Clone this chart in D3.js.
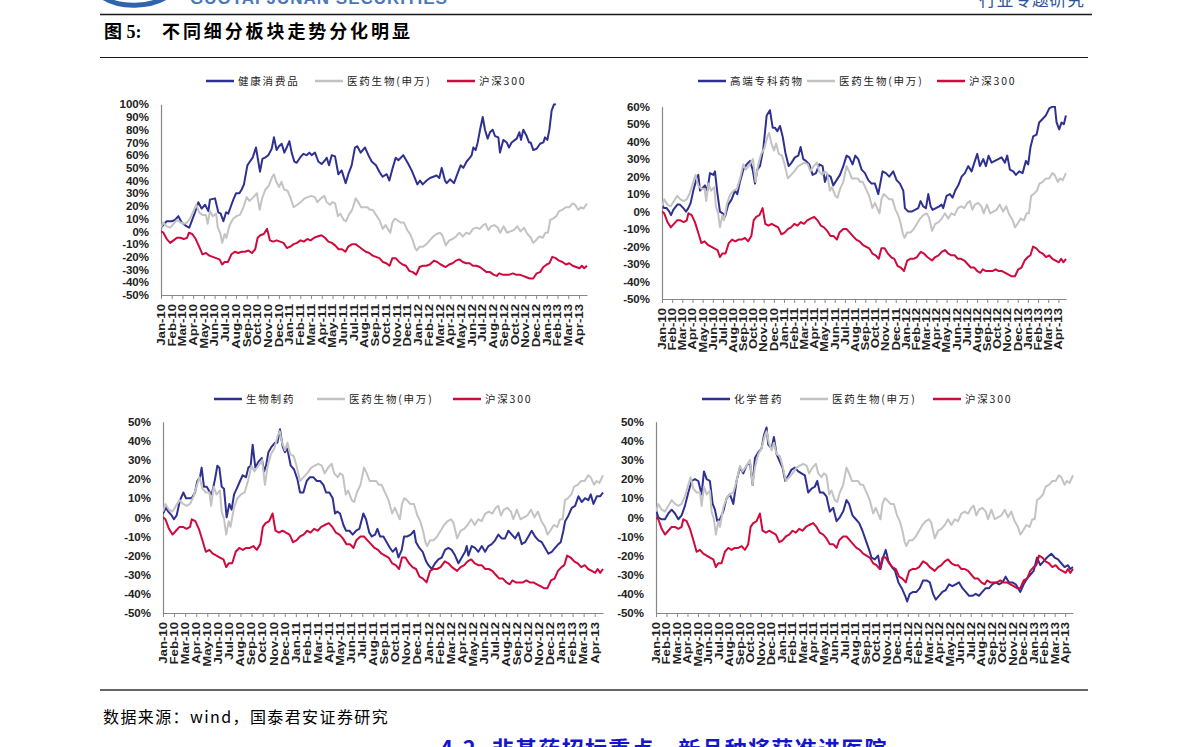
<!DOCTYPE html>
<html>
<head>
<meta charset="utf-8">
<script src="https://cdn.jsdelivr.net/npm/d3@7"></script>
<style>
  body { margin: 0; background: #fff; }
  svg { display: block; }
</style>
</head>
<body>
<svg id="page" width="1191" height="747"></svg>
<script>
// month tick labels
var months = ["Jan-10","Feb-10","Mar-10","Apr-10","May-10","Jun-10","Jul-10","Aug-10","Sep-10","Oct-10","Nov-10","Dec-10",
  "Jan-11","Feb-11","Mar-11","Apr-11","May-11","Jun-11","Jul-11","Aug-11","Sep-11","Oct-11","Nov-11","Dec-11",
  "Jan-12","Feb-12","Mar-12","Apr-12","May-12","Jun-12","Jul-12","Aug-12","Sep-12","Oct-12","Nov-12","Dec-12",
  "Jan-13","Feb-13","Mar-13","Apr-13"];

// [months since Jan-10, cumulative return %]
var yiyao = [[0,3],[0.22,7],[0.54,4],[0.86,3],[1.17,6],[1.49,9],[1.81,7],[2.13,6],[2.44,7],[2.76,11],[3.08,17],[3.30,21],[3.56,15],[3.87,13],[4.19,13],[4.35,6],[4.57,16],[4.83,12],[5.14,14],[5.30,3],[5.52,-1],[5.71,-9],[5.94,-2],[6.10,-5],[6.41,5],[6.73,10],[7.05,12],[7.37,13],[7.68,19],[8.00,27],[8.25,24],[8.63,27],[8.95,30],[9.21,17],[9.43,26],[9.75,33],[10.06,36],[10.38,43],[10.54,45],[10.76,39],[11.02,35],[11.24,39],[11.49,33],[11.81,32],[12.06,27],[12.38,19],[12.70,21],[13.02,23],[13.40,26],[13.71,27],[14.03,28],[14.35,27],[14.60,23],[14.92,26],[15.24,28],[15.46,23],[15.78,21],[16.00,23],[16.25,22],[16.51,12],[16.73,14],[17.05,9],[17.27,8],[17.52,13],[17.84,17],[18.16,26],[18.41,23],[18.67,19],[18.95,19],[19.27,19],[19.49,17],[19.75,17],[20.06,13],[20.38,9],[20.70,2],[20.95,5],[21.17,2],[21.40,-1],[21.59,7],[21.81,10],[22.03,9],[22.35,7],[22.67,7],[22.98,1],[23.24,-2],[23.49,-7],[23.71,-13],[23.87,-15],[24.13,-12],[24.44,-12],[24.76,-10],[25.08,-7],[25.40,-4],[25.71,-2],[26.03,-1],[26.25,-3],[26.57,-11],[26.89,-7],[27.21,-6],[27.52,-4],[27.84,-1],[28.16,-4],[28.48,-1],[28.79,-2],[29.11,2],[29.43,3],[29.75,2],[30.06,5],[30.29,6],[30.54,1],[30.79,4],[31.11,5],[31.43,3],[31.65,-1],[31.97,4],[32.29,-1],[32.60,0],[32.92,1],[33.24,4],[33.56,0],[33.87,3],[34.19,-2],[34.51,-5],[34.73,-9],[34.98,-7],[35.30,-4],[35.62,-5],[35.87,-1],[36.10,-1],[36.32,9],[36.57,10],[36.89,12],[37.14,16],[37.46,17],[37.78,19],[38.10,19],[38.41,22],[38.63,21],[38.95,17],[39.17,19],[39.43,18],[39.75,22]];

var hs300 = [[0,0],[0.22,-1],[0.54,-6],[0.86,-9],[1.17,-7],[1.49,-5],[1.81,-5],[2.13,-6],[2.44,-5],[2.60,-1],[2.92,-2],[3.24,-6],[3.56,-12],[3.87,-18],[4.19,-17],[4.51,-19],[4.83,-20],[5.14,-21],[5.46,-22],[5.71,-26],[5.94,-24],[6.25,-24],[6.57,-18],[6.89,-16],[7.21,-17],[7.52,-16],[7.84,-16],[8.16,-15],[8.48,-17],[8.79,-14],[9.02,-5],[9.27,-3],[9.59,-2],[9.90,2],[10.16,-7],[10.48,-8],[10.79,-7],[11.11,-8],[11.43,-9],[11.75,-13],[12.06,-12],[12.38,-10],[12.70,-9],[13.02,-7],[13.33,-8],[13.65,-6],[13.97,-7],[14.29,-5],[14.60,-4],[14.98,-3],[15.30,-5],[15.62,-8],[15.94,-9],[16.25,-11],[16.57,-14],[16.89,-14],[17.21,-16],[17.46,-12],[17.84,-10],[18.16,-10],[18.48,-12],[18.79,-14],[19.11,-16],[19.43,-17],[19.75,-19],[20.06,-20],[20.38,-21],[20.70,-24],[21.02,-25],[21.33,-27],[21.59,-21],[21.90,-21],[22.22,-24],[22.54,-26],[22.86,-27],[23.17,-31],[23.49,-32],[23.81,-34],[24.13,-28],[24.44,-27],[24.76,-27],[25.08,-26],[25.46,-23],[25.78,-24],[26.10,-26],[26.57,-28],[26.89,-26],[27.21,-25],[27.52,-23],[27.84,-22],[28.16,-24],[28.48,-25],[28.79,-25],[29.11,-27],[29.43,-27],[29.75,-28],[30.06,-30],[30.38,-32],[30.70,-32],[31.02,-34],[31.33,-35],[31.56,-33],[31.87,-34],[32.19,-34],[32.51,-34],[32.83,-33],[33.14,-34],[33.46,-34],[33.78,-35],[34.10,-36],[34.41,-37],[34.73,-37],[35.05,-33],[35.37,-32],[35.68,-28],[36.00,-26],[36.25,-25],[36.51,-20],[36.83,-21],[37.14,-23],[37.46,-24],[37.78,-26],[38.10,-25],[38.41,-27],[38.73,-28],[39.05,-29],[39.27,-27],[39.49,-29],[39.75,-27]];

var jiankang = [[0,3],[0.53,8],[1.00,8],[1.31,9],[1.62,12],[1.93,7],[2.40,4],[2.64,3],[3.17,15],[3.48,23],[3.79,18],[4.11,21],[4.42,16],[4.57,25],[5.04,26],[5.35,15],[5.57,14],[5.82,8],[6.07,15],[6.28,14],[6.53,20],[6.75,25],[7.00,30],[7.31,30],[7.53,33],[7.74,37],[8.06,52],[8.30,55],[8.55,58],[8.86,66],[9.24,47],[9.46,57],[9.70,58],[10.02,60],[10.33,65],[10.54,74],[10.79,64],[11.01,67],[11.26,69],[11.51,62],[11.73,66],[11.98,71],[12.19,62],[12.44,55],[12.66,54],[12.97,58],[13.28,61],[13.59,60],[13.84,62],[14.06,60],[14.37,62],[14.68,55],[14.99,53],[15.30,56],[15.46,58],[15.68,52],[15.93,60],[16.24,59],[16.55,45],[16.86,48],[17.23,38],[17.48,45],[17.79,52],[18.10,66],[18.32,67],[18.63,62],[19.04,66],[19.35,60],[19.66,55],[20.06,52],[20.37,47],[20.68,43],[21.06,45],[21.31,40],[21.62,50],[21.90,58],[22.15,56],[22.61,60],[23.08,53],[23.39,48],[23.64,43],[23.92,37],[24.17,40],[24.42,37],[24.79,40],[25.10,42],[25.41,43],[25.72,44],[25.97,42],[26.19,50],[26.50,40],[26.66,38],[26.97,41],[27.34,38],[27.65,45],[27.96,52],[28.21,50],[28.52,55],[28.83,58],[28.99,60],[29.14,66],[29.36,64],[29.55,70],[29.77,80],[30.02,90],[30.23,80],[30.48,73],[30.70,78],[30.95,80],[31.17,75],[31.48,74],[31.63,62],[31.94,72],[32.26,70],[32.47,66],[32.72,70],[33.19,73],[33.44,78],[33.59,72],[33.81,80],[34.12,75],[34.34,70],[34.49,70],[34.74,64],[35.05,65],[35.37,69],[35.68,70],[35.83,74],[36.05,72],[36.24,80],[36.45,95],[36.67,100],[36.86,100]];

var gaoduan = [[0,4],[0.20,2],[0.46,2],[0.72,0],[0.89,-2],[1.11,1],[1.51,4],[1.77,4],[2.10,2],[2.36,0],[2.59,2],[2.82,5],[3.08,12],[3.41,19],[3.57,21],[3.74,12],[3.90,13],[4.23,15],[4.46,12],[4.72,22],[5.05,21],[5.21,23],[5.44,11],[5.70,0],[5.97,-1],[6.20,-3],[6.52,4],[6.85,7],[7.18,12],[7.41,10],[7.67,17],[8.00,24],[8.33,27],[8.66,29],[8.92,24],[9.15,16],[9.38,24],[9.64,26],[9.97,36],[10.30,55],[10.62,58],[10.89,48],[11.11,48],[11.34,46],[11.61,49],[11.87,43],[12.13,34],[12.46,26],[12.75,28],[13.08,31],[13.41,32],[13.64,37],[13.90,30],[14.16,29],[14.49,27],[14.82,21],[15.15,22],[15.48,27],[15.80,26],[16.03,17],[16.26,21],[16.59,20],[16.85,15],[17.18,18],[17.51,21],[17.84,26],[18.16,32],[18.43,31],[18.75,27],[19.02,32],[19.31,30],[19.64,24],[19.97,22],[20.30,18],[20.62,16],[20.95,16],[21.28,10],[21.70,23],[22.03,22],[22.36,20],[22.75,23],[23.08,18],[23.41,16],[23.74,12],[23.90,2],[24.23,0],[24.56,0],[24.89,1],[25.21,2],[25.44,6],[25.70,3],[25.97,2],[26.20,10],[26.43,3],[26.62,1],[26.95,2],[27.28,3],[27.51,4],[27.67,2],[28.00,9],[28.33,10],[28.59,8],[28.85,12],[29.15,15],[29.48,20],[29.80,22],[30.13,26],[30.46,23],[30.79,29],[31.02,33],[31.28,26],[31.61,30],[31.87,26],[32.13,32],[32.43,28],[32.75,29],[33.08,30],[33.41,31],[33.74,28],[33.97,32],[34.23,24],[34.56,23],[34.82,21],[35.15,23],[35.48,22],[35.80,29],[36.03,27],[36.26,37],[36.52,43],[36.85,44],[37.11,51],[37.44,53],[37.77,55],[38.10,59],[38.43,60],[38.66,60],[38.82,51],[39.08,47],[39.31,51],[39.54,50],[39.74,55]];

var shengwu = [[0,2],[0.27,5],[0.48,3],[0.78,1],[0.99,-1],[1.23,1],[1.54,9],[1.84,13],[2.08,10],[2.29,10],[2.59,10],[2.89,13],[3.10,19],[3.34,21],[3.49,26],[3.70,16],[3.95,16],[4.25,13],[4.40,12],[4.70,20],[4.91,27],[5.09,26],[5.30,16],[5.51,15],[5.75,0],[5.99,7],[6.20,4],[6.42,12],[6.66,15],[6.96,19],[7.20,22],[7.50,21],[7.71,26],[7.92,27],[8.10,38],[8.34,26],[8.61,29],[8.92,31],[9.13,24],[9.31,27],[9.52,34],[9.82,37],[10.12,39],[10.33,39],[10.57,46],[10.81,37],[11.02,34],[11.23,36],[11.54,27],[11.84,25],[12.14,20],[12.38,13],[12.68,13],[12.98,19],[13.28,21],[13.58,21],[13.89,19],[14.19,19],[14.49,17],[14.73,13],[15.03,13],[15.33,10],[15.54,2],[15.75,3],[15.99,2],[16.30,-4],[16.54,-7],[16.84,-7],[17.14,-9],[17.44,-7],[17.74,-6],[18.10,2],[18.34,-1],[18.64,-8],[18.86,-10],[19.16,-9],[19.37,-6],[19.61,-10],[19.91,-10],[20.21,-13],[20.51,-16],[20.75,-18],[21.05,-16],[21.27,-21],[21.57,-17],[21.78,-10],[22.08,-10],[22.38,-9],[22.68,-7],[22.86,-13],[23.16,-16],[23.46,-18],[23.77,-23],[23.98,-25],[24.28,-27],[24.58,-24],[24.88,-22],[25.18,-21],[25.48,-17],[25.78,-16],[26.08,-17],[26.39,-20],[26.69,-24],[26.99,-21],[27.29,-18],[27.44,-15],[27.59,-20],[27.89,-15],[28.19,-16],[28.49,-18],[28.80,-15],[29.10,-18],[29.40,-15],[29.70,-14],[30.00,-12],[30.30,-9],[30.60,-11],[30.90,-11],[31.20,-7],[31.51,-9],[31.81,-11],[32.11,-8],[32.41,-14],[32.71,-13],[33.01,-10],[33.31,-7],[33.61,-10],[33.92,-12],[34.22,-13],[34.52,-16],[34.82,-19],[35.12,-18],[35.42,-16],[35.72,-14],[35.93,-13],[36.17,-7],[36.33,-2],[36.63,1],[36.93,5],[37.23,6],[37.53,11],[37.83,8],[38.13,10],[38.43,9],[38.64,12],[38.89,7],[39.19,11],[39.49,11],[39.75,13]];

var huaxue = [[0,4],[0.22,0],[0.54,-1],[0.86,-1],[1.17,2],[1.49,4],[1.81,2],[2.13,-1],[2.44,1],[2.76,6],[3.08,13],[3.40,19],[3.71,20],[4.03,19],[4.35,12],[4.57,24],[4.83,20],[5.14,19],[5.40,7],[5.62,4],[5.84,-2],[6.10,-1],[6.41,3],[6.73,10],[7.05,12],[7.37,7],[7.68,19],[8.00,26],[8.32,23],[8.63,27],[8.95,29],[9.21,17],[9.43,31],[9.75,34],[10.06,36],[10.29,43],[10.54,47],[10.70,38],[11.02,36],[11.24,42],[11.49,33],[11.81,29],[12.06,26],[12.32,19],[12.63,22],[12.92,25],[13.24,26],[13.56,24],[13.87,23],[14.19,22],[14.51,13],[14.83,15],[15.14,16],[15.37,19],[15.62,13],[15.94,13],[16.25,11],[16.57,3],[16.89,5],[17.21,-2],[17.52,0],[17.84,3],[18.16,9],[18.41,7],[18.73,1],[19.05,-1],[19.37,-3],[19.68,-7],[20.00,-12],[20.32,-17],[20.54,-21],[20.86,-22],[21.17,-20],[21.40,-27],[21.65,-21],[21.90,-17],[22.16,-23],[22.48,-26],[22.79,-28],[23.11,-34],[23.43,-37],[23.75,-41],[23.94,-44],[24.19,-40],[24.51,-39],[24.83,-39],[25.14,-37],[25.46,-33],[25.78,-33],[26.10,-34],[26.41,-40],[26.67,-43],[26.98,-41],[27.30,-39],[27.62,-38],[27.94,-35],[28.25,-36],[28.57,-35],[28.89,-34],[29.21,-37],[29.52,-39],[29.84,-41],[30.16,-41],[30.48,-40],[30.79,-41],[31.11,-39],[31.43,-37],[31.75,-37],[32.06,-35],[32.38,-34],[32.70,-35],[33.02,-34],[33.33,-31],[33.65,-34],[33.97,-34],[34.29,-35],[34.73,-39],[35.05,-35],[35.37,-32],[35.68,-30],[36.00,-28],[36.32,-21],[36.63,-25],[36.95,-23],[37.27,-21],[37.68,-19],[38.00,-21],[38.32,-22],[38.63,-24],[38.95,-26],[39.27,-25],[39.49,-27],[39.75,-26]];

var yTicks1 = d3.range(-50, 101, 10);
var yTicks2 = d3.range(-50, 61, 10);
var yTicks3 = d3.range(-50, 51, 10);

var blueName = ["健康消费品", "高端专科药物", "生物制药", "化学普药"];
var greyName = "医药生物(申万)";
var redName = "沪深300";

var colBlue = "#2e3192", colGrey = "#c3c3c3", colRed = "#cf0a3c";

var panels = [
  { blue: jiankang, name: blueName[0], ticks: yTicks1, x0: 161, x1: 587, y0: 104.3, y1: 295, ly: 81, lx: [206, 315, 447] },
  { blue: gaoduan,  name: blueName[1], ticks: yTicks2, x0: 662, x1: 1066, y0: 106.7, y1: 299, ly: 81, lx: [698, 807, 937] },
  { blue: shengwu,  name: blueName[2], ticks: yTicks3, x0: 163, x1: 603, y0: 421.7, y1: 613, ly: 399, lx: [214, 317, 453] },
  { blue: huaxue,   name: blueName[3], ticks: yTicks3, x0: 656, x1: 1073, y0: 421.7, y1: 613, ly: 399, lx: [702, 800, 933] }
];

var svg = d3.select("#page");

// header (cut off at the top edge, as in the source page)
svg.append("path")
    .attr("d", "M104,-2 C120,8 150,8 168,-4")
    .attr("fill", "none")
    .attr("stroke", "#2f63ad")
    .attr("stroke-width", 5);
svg.append("text")
    .attr("x", 190).attr("y", 4)
    .style("font-family", "Liberation Sans, Arial, sans-serif")
    .style("font-weight", "bold").style("font-size", "17px")
    .style("letter-spacing", "1px")
    .attr("fill", "#4a78b8")
    .text("GUOTAI JUNAN SECURITIES");
svg.append("text")
    .attr("x", 979).attr("y", 6)
    .style("font-family", "Noto Sans CJK SC, sans-serif")
    .style("font-size", "17px")
    .style("letter-spacing", "0.6px")
    .attr("fill", "#2d5597")
    .text("行业专题研究");

svg.append("line").attr("x1", 100).attr("x2", 1092).attr("y1", 14.5).attr("y2", 14.5)
    .attr("stroke", "#1a1a1a").attr("stroke-width", 1.6);

svg.append("text")
    .attr("x", 104).attr("y", 38)
    .style("font-family", "Liberation Serif, Noto Sans CJK SC, serif")
    .style("font-weight", "bold").style("font-size", "18px")
    .text("图 5:");
svg.append("text")
    .attr("x", 162).attr("y", 38)
    .style("font-family", "Noto Sans CJK SC, sans-serif")
    .style("font-weight", "bold").style("font-size", "18px")
    .style("letter-spacing", "2.9px")
    .text("不同细分板块走势分化明显");

svg.append("line").attr("x1", 100).attr("x2", 1088).attr("y1", 57.5).attr("y2", 57.5)
    .attr("stroke", "#1a1a1a").attr("stroke-width", 1);

svg.append("line").attr("x1", 100).attr("x2", 1088).attr("y1", 690).attr("y2", 690)
    .attr("stroke", "#333").attr("stroke-width", 1.5);

svg.append("text")
    .attr("x", 103).attr("y", 723)
    .style("font-family", "Noto Sans CJK SC, Liberation Serif, serif")
    .style("font-size", "16px")
    .style("letter-spacing", "1.4px")
    .text("数据来源：wind，国泰君安证券研究");

svg.append("text")
    .attr("x", 440).attr("y", 757)
    .style("font-family", "Noto Sans CJK SC, sans-serif")
    .style("font-weight", "bold").style("font-size", "22px")
    .style("letter-spacing", "1.3px")
    .attr("fill", "#1515d0")
    .text("4.2. 非基药招标重点，新品种将获准进医院");

// panels
panels.forEach(function (p, i) {
    var g = svg.append("g");

    var x = d3.scaleLinear().domain([0, 39.75]).range([p.x0, p.x1]);
    var y = d3.scaleLinear().domain([d3.min(p.ticks), d3.max(p.ticks)]).range([p.y1, p.y0]);

    g.append("clipPath").attr("id", "clip" + i)
        .append("rect")
        .attr("x", p.x0).attr("y", p.y0 - 1)
        .attr("width", p.x1 - p.x0 + 2).attr("height", p.y1 - p.y0 + 1);

    // y axis
    var yAxis = g.append("g")
        .attr("transform", "translate(" + p.x0 + ",0)")
        .call(d3.axisLeft(y).tickValues(p.ticks).tickSize(0).tickPadding(12)
            .tickFormat(function (d) { return d + "%"; }));
    yAxis.select(".domain").attr("stroke", "#888").attr("stroke-width", 1.2);
    yAxis.selectAll("text")
        .style("font-family", "Liberation Sans, Arial, sans-serif")
        .style("font-weight", "bold").style("font-size", "11.5px")
        .attr("fill", "#222");

    // x axis
    var xAxis = g.append("g")
        .attr("transform", "translate(0," + p.y1 + ")")
        .call(d3.axisBottom(x).tickValues(d3.range(0, months.length)).tickSize(4).tickSizeOuter(0).tickFormat(""));
    xAxis.select(".domain").attr("stroke", "#888").attr("stroke-width", 1.2);
    xAxis.selectAll(".tick line").attr("stroke", "#888");

    g.selectAll("text.mlab")
        .data(months)
        .enter().append("text")
        .attr("class", "mlab")
        .attr("transform", function (d, k) {
            return "translate(" + x(k) + "," + (p.y1 + 9) + ") rotate(-90) scale(1.2,1)";
        })
        .attr("dy", "0.35em")
        .attr("text-anchor", "end")
        .style("font-family", "Liberation Sans, Arial, sans-serif")
        .style("font-weight", "bold").style("font-size", "11px")
        .attr("fill", "#222")
        .text(function (d) { return d; });

    var line = d3.line()
        .x(function (d) { return x(d[0]); })
        .y(function (d) { return y(d[1]); });

    var plot = g.append("g").attr("clip-path", "url(#clip" + i + ")");
    [[p.blue, colBlue], [yiyao, colGrey], [hs300, colRed]].forEach(function (s) {
        plot.append("path")
            .datum(s[0])
            .attr("d", line)
            .attr("fill", "none")
            .attr("stroke", s[1])
            .attr("stroke-width", 2)
            .attr("stroke-linejoin", "round");
    });

    // legend
    var items = [[p.name, colBlue], [greyName, colGrey], [redName, colRed]];
    items.forEach(function (it, k) {
        g.append("line")
            .attr("x1", p.lx[k]).attr("x2", p.lx[k] + 28)
            .attr("y1", p.ly).attr("y2", p.ly)
            .attr("stroke", it[1]).attr("stroke-width", 2.5);
        g.append("text")
            .attr("x", p.lx[k] + 32).attr("y", p.ly)
            .attr("dy", "0.36em")
            .style("font-family", "Noto Sans CJK SC, sans-serif")
            .style("font-size", "10.5px")
            .style("letter-spacing", "1.8px")
            .attr("fill", "#222")
            .text(it[0]);
    });
});
</script>
</body>
</html>
